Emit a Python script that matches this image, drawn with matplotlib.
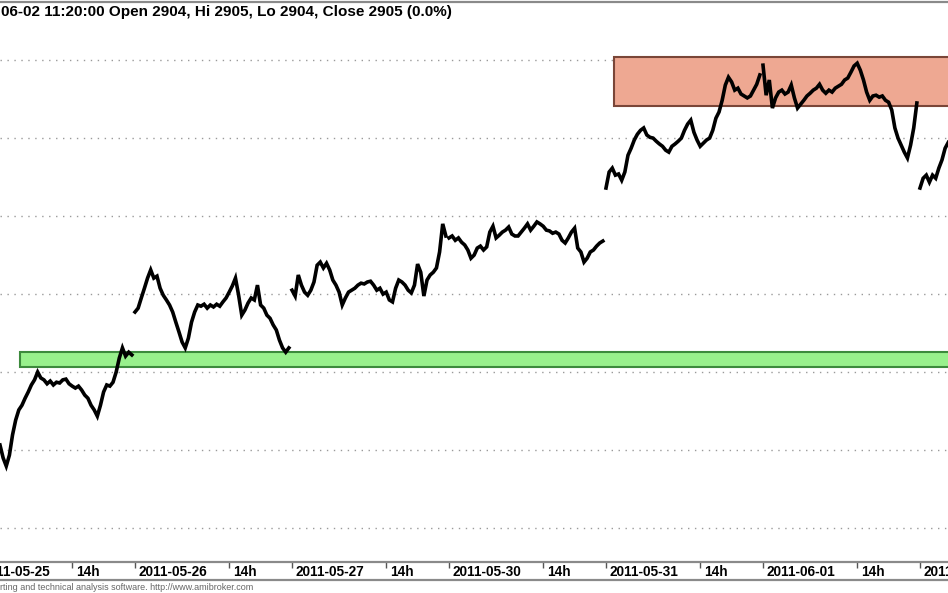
import matplotlib.pyplot as plt
from matplotlib.lines import Line2D
from matplotlib.patches import Rectangle

# sessions 09:00-17:20, one close every 10 minutes
day_labels = ['2011-05-25', '2011-05-26', '2011-05-27', '2011-05-30',
              '2011-05-31', '2011-06-01', '2011-06-02']
first_bar = [7, 0, 0, 0, 0, 0, 0]   # 05-25 is cut off on the left

close_0525 = [2841.3, 2838.0, 2835.9, 2838.7, 2843.9, 2847.7, 2850.3, 2851.5, 2853.3, 2854.9,
              2856.7, 2858.0, 2860.0, 2858.5, 2858.0, 2857.0, 2857.7, 2856.7, 2857.4, 2857.2,
              2858.0, 2858.2, 2857.0, 2856.4, 2855.9, 2856.4, 2855.4, 2854.1, 2853.3, 2851.5,
              2850.3, 2848.7, 2851.5, 2854.9, 2856.7, 2856.4, 2857.4, 2860.0, 2863.6, 2866.2,
              2864.1, 2865.1, 2864.4]
close_0526 = [2875.4, 2876.4, 2879.0, 2881.5, 2884.1, 2886.2, 2884.1, 2884.6, 2881.5, 2879.7,
              2878.5, 2877.2, 2875.4, 2872.8, 2870.3, 2867.7, 2866.2, 2868.7, 2872.8, 2875.4,
              2877.2, 2876.9, 2877.4, 2876.4, 2877.2, 2876.7, 2877.4, 2876.9, 2878.0, 2879.0,
              2880.5, 2882.1, 2884.1, 2879.7, 2874.6, 2875.9, 2877.7, 2879.0, 2878.5, 2882.3,
              2877.2, 2876.4, 2874.6, 2873.8, 2872.1, 2870.8, 2868.2, 2866.2, 2865.1, 2866.2]
close_0527 = [2881.0, 2879.5, 2884.9, 2882.3, 2880.5, 2879.7, 2881.0, 2883.1, 2887.4, 2888.2,
              2886.7, 2887.9, 2886.2, 2883.6, 2882.3, 2880.5, 2877.2, 2879.0, 2880.5, 2881.0,
              2881.5, 2882.3, 2882.8, 2882.6, 2883.1, 2883.3, 2882.3, 2881.0, 2881.5, 2880.0,
              2880.5, 2878.5, 2878.0, 2881.5, 2883.6, 2883.1, 2882.3, 2881.0, 2880.3, 2882.3,
              2887.7, 2885.6, 2879.5, 2883.6, 2884.9, 2885.6, 2886.7, 2890.8, 2898.0, 2894.9]
close_0530 = [2894.4, 2894.9, 2893.8, 2894.4, 2893.3, 2892.6, 2891.3, 2889.2, 2890.0, 2891.8,
              2892.3, 2891.3, 2892.1, 2895.9, 2897.4, 2894.4, 2895.1, 2895.9, 2896.4, 2897.2,
              2895.4, 2894.9, 2894.9, 2895.9, 2896.9, 2898.0, 2896.4, 2897.4, 2898.5, 2898.0,
              2897.4, 2896.4, 2896.2, 2895.6, 2895.9, 2895.4, 2893.8, 2893.1, 2894.4, 2895.9,
              2896.9, 2891.8, 2890.8, 2888.2, 2889.2, 2890.8, 2891.3, 2892.3, 2893.1, 2893.6]
close_0531 = [2907.2, 2911.3, 2912.3, 2910.5, 2910.8, 2909.2, 2911.3, 2915.6, 2917.4, 2919.5,
              2921.0, 2922.0, 2922.6, 2920.8, 2920.2, 2920.0, 2919.2, 2918.5, 2917.9, 2916.9,
              2916.4, 2917.9, 2918.5, 2919.2, 2920.0, 2922.0, 2923.6, 2924.6, 2921.5, 2919.5,
              2917.9, 2918.7, 2919.5, 2920.0, 2922.0, 2925.1, 2926.7, 2929.7, 2933.6, 2935.6,
              2934.4, 2932.3, 2932.8, 2931.3, 2930.8, 2930.3, 2930.8, 2932.3, 2933.8, 2936.2]
close_0601 = [2938.7, 2931.0, 2934.9, 2927.7, 2930.3, 2931.8, 2932.3, 2931.3, 2931.8, 2933.6,
              2930.3, 2927.7, 2928.7, 2929.7, 2930.8, 2931.5, 2932.3, 2932.8, 2933.8, 2932.3,
              2931.5, 2932.3, 2931.8, 2932.8, 2933.3, 2933.8, 2934.9, 2935.4, 2936.9, 2938.5,
              2939.2, 2937.4, 2934.9, 2931.8, 2929.7, 2930.8, 2931.0, 2930.5, 2930.8, 2929.7,
              2929.2, 2927.2, 2922.6, 2920.0, 2918.2, 2916.4, 2914.9, 2918.2, 2922.6, 2929.0]
close_0602 = [2907.2, 2909.7, 2910.5, 2908.7, 2910.5, 2909.7, 2912.3, 2914.4, 2917.4, 2918.9]

sessions = [close_0525, close_0526, close_0527, close_0530, close_0531, close_0601, close_0602]

# support / resistance zones: (low, high, start day, start time)
support_zone = (2861.2, 2865.1, 0, '11:15')
resist_zone = (2928.2, 2940.8, 4, '09:25')

grid_levels = [2820, 2840, 2860, 2880, 2900, 2920, 2940]
title_text = '06-02 11:20:00 Open 2904, Hi 2905, Lo 2904, Close 2905 (0.0%)'
footer_text = 'rting and technical analysis software. http://www.amibroker.com'

BARS = 50  # 10-minute bars per session


def day_pos(day, hhmm):
    h, m = map(int, hhmm.split(':'))
    return day + ((h - 9) * 60 + m) / 500.0


fig = plt.figure(figsize=(9.48, 5.93), dpi=100)
ax = fig.add_axes([0, 31 / 593, 1, 560 / 593])

for lvl in grid_levels:
    ax.axhline(lvl, color='#9a9a9a', lw=1, ls=(0, (1, 4)), zorder=1)

for lo, hi, d, t in [support_zone, resist_zone]:
    x0 = day_pos(d, t)
    fc, ec = ('#98f08c', '#3c8a3c') if lo < 2900 else ('#eea892', '#7a4638')
    ax.add_patch(Rectangle((x0, lo), 10 - x0, hi - lo, facecolor=fc,
                           edgecolor=ec, lw=1.5, zorder=2))

for d, vals in enumerate(sessions):
    xs = [d + (first_bar[d] + i) / BARS for i in range(len(vals))]
    ax.plot(xs, vals, color='black', lw=2.6, zorder=3, solid_joinstyle='miter')

ticks = []
labels = []
for d, lab in enumerate(day_labels):
    ticks += [d, d + 0.6]
    labels += [lab, '14h']
ax.set_xticks(ticks)
ax.set_xticklabels([])
ax.tick_params(axis='x', direction='out', length=4, width=1, color='#555555')
for t, lab in zip(ticks, labels):
    ax.annotate(lab, (t, 0), xycoords=('data', 'axes fraction'),
                xytext=(2.5, -2.5), textcoords='offset points',
                ha='left', va='top', fontsize=9.8, fontweight='bold',
                family='Liberation Sans', annotation_clip=False)

# limits after the ticks, otherwise set_xticks widens the view
ax.set_xlim(22 / 157, 970 / 157)
ax.set_ylim(2811.3, 2954.9)
ax.set_yticks([])

for s in ['left', 'right']:
    ax.spines[s].set_visible(False)
for s in ['top', 'bottom']:
    ax.spines[s].set_color('#8a8a8a')
    ax.spines[s].set_linewidth(1.6)

fig.add_artist(Line2D([0, 1], [1 - 580 / 593] * 2, color='#8a8a8a', lw=1.6))

fig.text(0.001, 1 - 12 / 593, title_text, fontsize=11, fontweight='bold',
         family='Liberation Sans', va='center', ha='left')
fig.text(0.0, 1 - 588 / 593, footer_text, fontsize=6.5, color='#666666',
         family='Liberation Sans', va='center', ha='left')

fig.savefig('out.png', dpi=100)
